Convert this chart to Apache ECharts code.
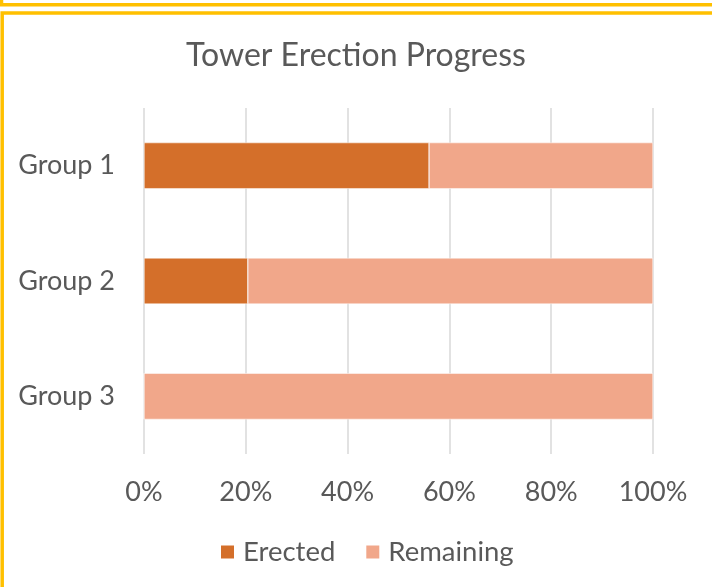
<!DOCTYPE html>
<html><head><meta charset="utf-8">
<script src="https://cdn.jsdelivr.net/npm/echarts@6/dist/echarts.min.js"></script>
<style>html,body{margin:0;padding:0;background:#fff}#c{width:712px;height:587px}</style>
</head><body><div id="c"></div>
<script>
const categories = ['Group 1', 'Group 2', 'Group 3'];
const erected = [56, 20.4, 0];
const remaining = [44, 79.6, 100];
const xTicks = [0, 20, 40, 60, 80, 100];

const chart = echarts.init(document.getElementById('c'), null, {renderer: 'canvas'});
const font = 'Lato';
chart.setOption({
  animation: false,
  backgroundColor: '#fff',
  title: {
    text: 'Tower Erection Progress', left: 'center', top: 35,
    textStyle: {fontFamily: font, fontSize: 32, fontWeight: 'normal', color: '#595959'}
  },
  graphic: [
    {type: 'polyline', shape: {points: [[1.5, -10], [1.5, 4.8], [800, 4.8]]}, style: {stroke: '#FFC000', lineWidth: 3.5, fill: null}},
    {type: 'rect', shape: {x: 2.2, y: 13, width: 800, height: 800}, style: {stroke: '#FFC000', lineWidth: 3.5, fill: null}}
  ],
  grid: {left: 144, right: 59, top: 108, bottom: 133, containLabel: false},
  xAxis: {
    type: 'value', min: 0, max: 100, interval: 20,
    axisLine: {show: false}, axisTick: {show: false},
    splitLine: {lineStyle: {color: '#d9d9d9', width: 1.5}},
    axisLabel: {formatter: v => xTicks.includes(v) ? v + '%' : '', margin: 25, fontFamily: font, fontSize: 27, color: '#595959'}
  },
  yAxis: {
    type: 'category', data: categories, inverse: true,
    axisLine: {show: false}, axisTick: {show: false},
    axisLabel: {margin: 29, fontFamily: font, fontSize: 27, color: '#595959'}
  },
  legend: {
    bottom: 16, left: 214, itemWidth: 15, itemHeight: 15, itemGap: 29,
    icon: 'rect',
    textStyle: {fontFamily: font, fontSize: 27.5, color: '#595959', padding: [0, 0, 0, 3]},
    data: ['Erected', 'Remaining']
  },
  series: [
    {name: 'Erected', type: 'bar', stack: 's', data: erected, barCategoryGap: '60%',
      itemStyle: {color: '#D46F2A', borderColor: '#fff', borderWidth: 0.5}},
    {name: 'Remaining', type: 'bar', stack: 's', data: remaining, barCategoryGap: '60%',
      itemStyle: {color: '#F1A78A', borderColor: '#fff', borderWidth: 0.5}}
  ]
});
</script></body></html>
